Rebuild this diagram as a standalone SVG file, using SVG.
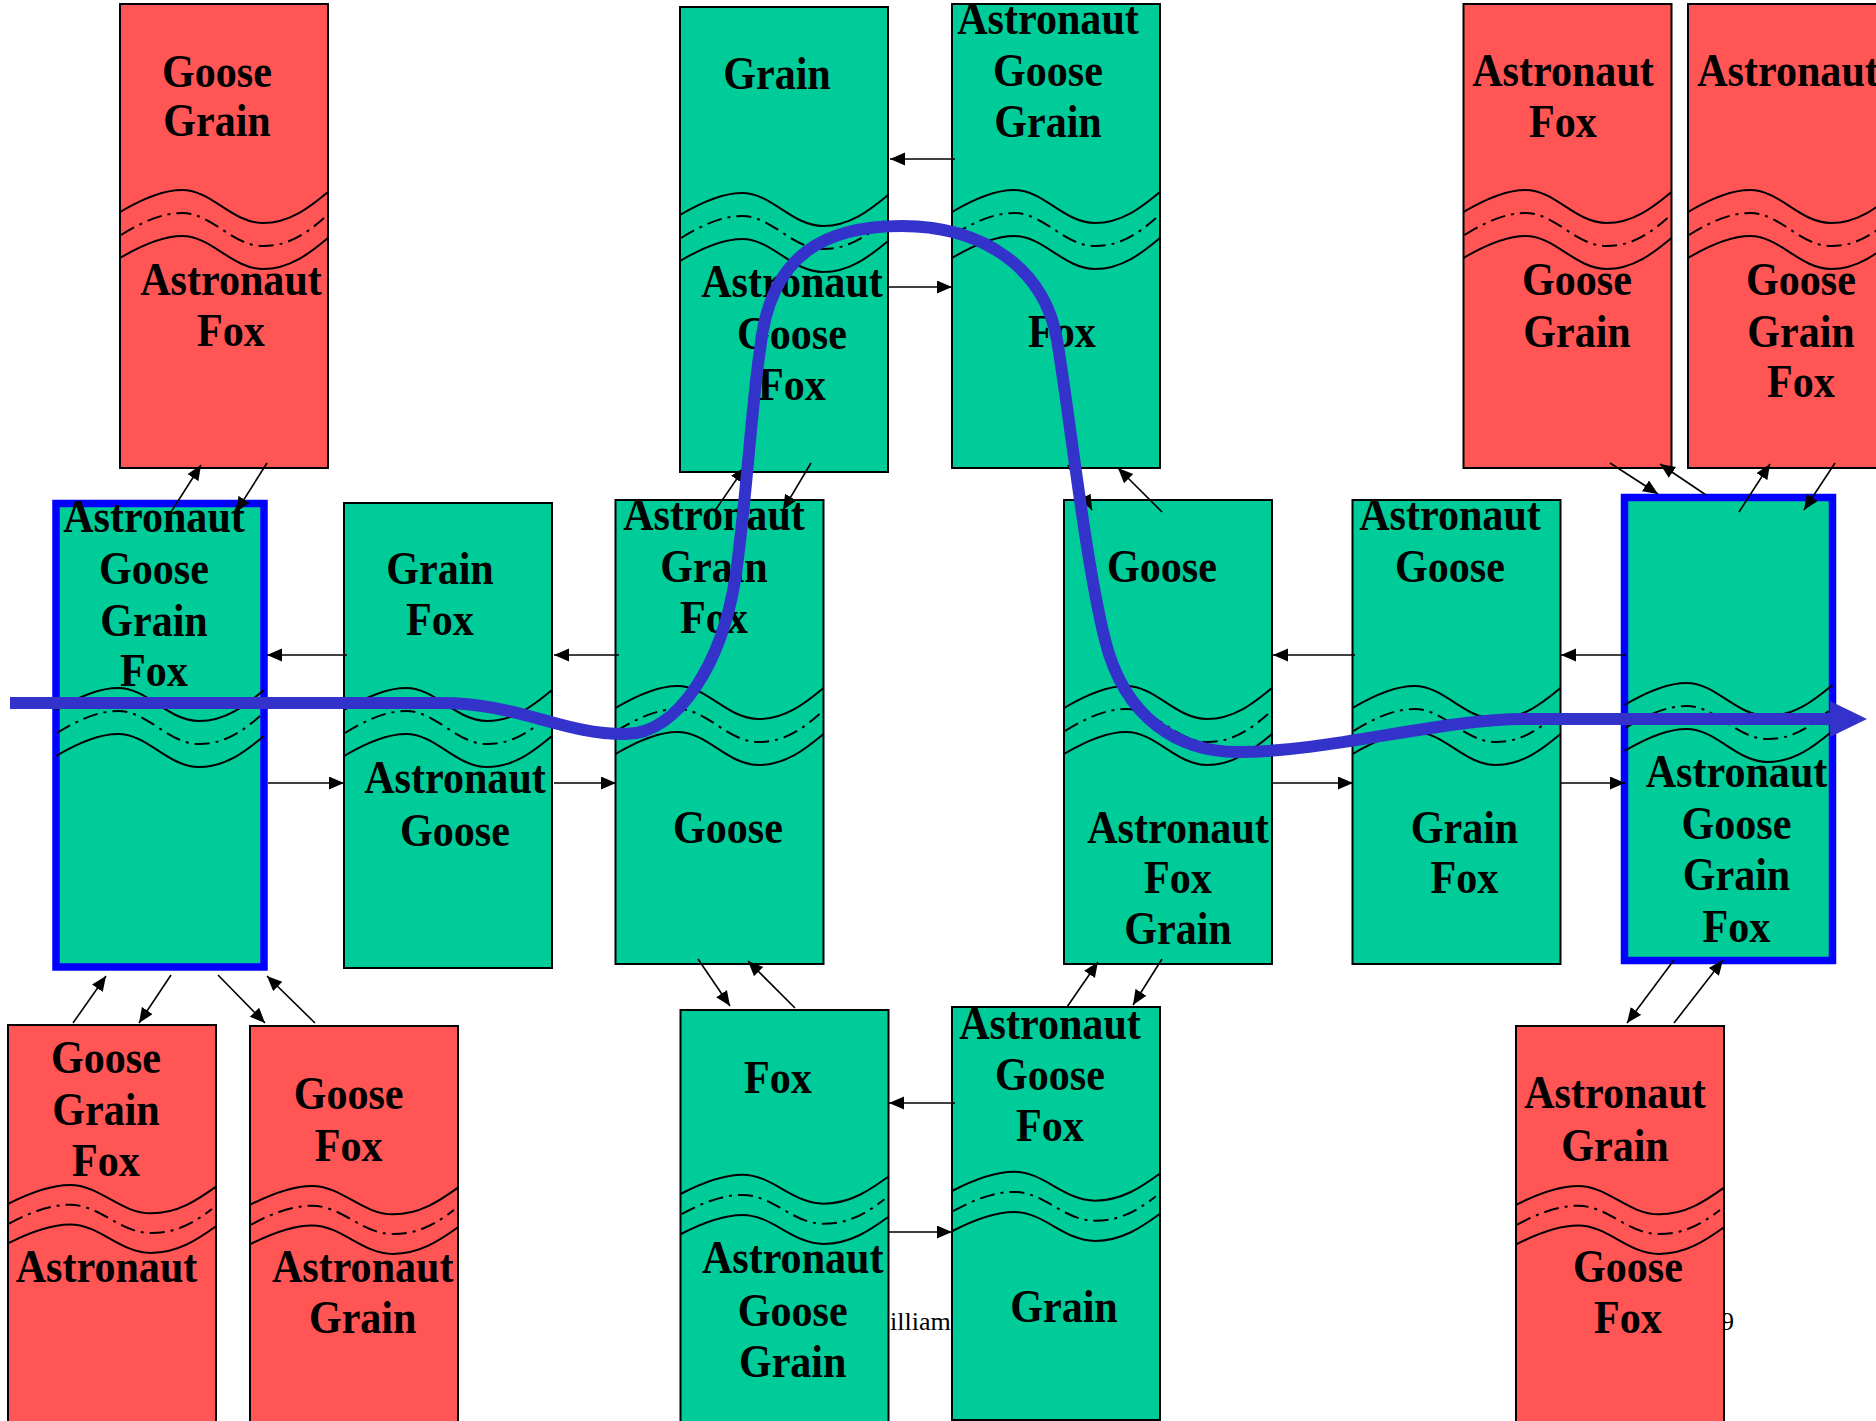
<svg xmlns="http://www.w3.org/2000/svg" xmlns:xlink="http://www.w3.org/1999/xlink" width="1876" height="1421" viewBox="0 0 1876 1421">
  <style>
    .red { fill: #FF5555; stroke: #000; stroke-width: 2; }
    .grn { fill: #00CC99; stroke: #000; stroke-width: 2; }
    .sel { fill: #00CC99; stroke: #0000FF; stroke-width: 7.5; }
    .w  { fill: none; stroke: #000; stroke-width: 2; vector-effect: non-scaling-stroke; }
    .wd { fill: none; stroke: #000; stroke-width: 2; stroke-dasharray: 15 6 3 6; vector-effect: non-scaling-stroke; }
    .t  { font-family: "Liberation Serif", "Times New Roman", serif; font-weight: bold; font-size: 46px; text-anchor: middle; fill: #000; }
    .f  { font-family: "Liberation Serif", "Times New Roman", serif; font-size: 26px; fill: #000; }
    .c  { fill: none; stroke: #000; stroke-width: 1.6; marker-end: url(#head); }
    .route { fill: none; stroke: #3333CC; stroke-width: 12; }
  </style>
  <defs>
    <marker id="head" markerUnits="userSpaceOnUse" markerWidth="16" markerHeight="14" refX="15" refY="6.5" orient="auto">
      <path d="M0,0 L15,6.5 L0,13 z" fill="#000"/>
    </marker>
    <!-- torn-edge break drawn across a state column (box-relative coordinates) -->
    <g id="wave">
      <path class="w" d="M0,208 C22,195 42,186 62,186 C92,186 112,219 143,219 C170,219 190,203 208,188"/>
      <path class="wd" d="M1,231 C22,218 42,209 62,209 C92,209 112,242 143,242 C170,242 188,228 204,214"/>
      <path class="w" d="M0,254 C22,241 42,232 62,232 C92,232 112,265 143,265 C170,265 190,249 208,234"/>
    </g>
  </defs>

  <!-- footer text partly covered by the columns -->
  <text class="f" x="890" y="1330">illiam</text>
  <text class="f" x="1721" y="1330">9</text>

  <!-- top row -->
  <g id="node-A">
    <rect class="red" x="120" y="4" width="208" height="464"/>
    <use xlink:href="#wave" transform="translate(120,4)"/>
    <text class="t" transform="translate(217,0) scale(0.915,1)"><tspan x="0" y="87">Goose</tspan><tspan x="0" y="136">Grain</tspan></text>
    <text class="t" transform="translate(231,0) scale(0.915,1)"><tspan x="0" y="295">Astronaut</tspan><tspan x="0" y="346">Fox</tspan></text>
  </g>
  <g id="node-B">
    <rect class="grn" x="680" y="7" width="208" height="465"/>
    <use xlink:href="#wave" transform="translate(680,7)"/>
    <text class="t" transform="translate(777,0) scale(0.915,1)"><tspan x="0" y="89">Grain</tspan></text>
    <text class="t" transform="translate(792,0) scale(0.915,1)"><tspan x="0" y="297">Astronaut</tspan><tspan x="0" y="349">Goose</tspan><tspan x="0" y="400">Fox</tspan></text>
  </g>
  <g id="node-C">
    <rect class="grn" x="952" y="4" width="208" height="464"/>
    <use xlink:href="#wave" transform="translate(952,4)"/>
    <text class="t" transform="translate(1048,0) scale(0.915,1)"><tspan x="0" y="34">Astronaut</tspan><tspan x="0" y="86">Goose</tspan><tspan x="0" y="137">Grain</tspan></text>
    <text class="t" transform="translate(1062,0) scale(0.915,1)"><tspan x="0" y="347">Fox</tspan></text>
  </g>
  <g id="node-D">
    <rect class="red" x="1463.5" y="4" width="208" height="464"/>
    <use xlink:href="#wave" transform="translate(1463.5,4)"/>
    <text class="t" transform="translate(1563,0) scale(0.915,1)"><tspan x="0" y="86">Astronaut</tspan><tspan x="0" y="137">Fox</tspan></text>
    <text class="t" transform="translate(1577,0) scale(0.915,1)"><tspan x="0" y="295">Goose</tspan><tspan x="0" y="347">Grain</tspan></text>
  </g>
  <g id="node-E">
    <rect class="red" x="1688" y="4" width="208" height="464"/>
    <use xlink:href="#wave" transform="translate(1688,4)"/>
    <text class="t" transform="translate(1788,0) scale(0.915,1)"><tspan x="0" y="86">Astronaut</tspan></text>
    <text class="t" transform="translate(1801,0) scale(0.915,1)"><tspan x="0" y="295">Goose</tspan><tspan x="0" y="347">Grain</tspan><tspan x="0" y="397">Fox</tspan></text>
  </g>

  <!-- middle row -->
  <g id="node-F">
    <rect class="sel" x="56" y="503.5" width="208" height="463.5"/>
    <use xlink:href="#wave" transform="translate(56,502)"/>
    <text class="t" transform="translate(154,0) scale(0.915,1)"><tspan x="0" y="532">Astronaut</tspan><tspan x="0" y="584">Goose</tspan><tspan x="0" y="636">Grain</tspan><tspan x="0" y="686">Fox</tspan></text>
  </g>
  <g id="node-G">
    <rect class="grn" x="344" y="503" width="208" height="465"/>
    <use xlink:href="#wave" transform="translate(344,502)"/>
    <text class="t" transform="translate(440,0) scale(0.915,1)"><tspan x="0" y="584">Grain</tspan><tspan x="0" y="635">Fox</tspan></text>
    <text class="t" transform="translate(455,0) scale(0.915,1)"><tspan x="0" y="793">Astronaut</tspan><tspan x="0" y="846">Goose</tspan></text>
  </g>
  <g id="node-H">
    <rect class="grn" x="615.5" y="500" width="208" height="464"/>
    <use xlink:href="#wave" transform="translate(615.5,500)"/>
    <text class="t" transform="translate(714,0) scale(0.915,1)"><tspan x="0" y="530">Astronaut</tspan><tspan x="0" y="582">Grain</tspan><tspan x="0" y="633">Fox</tspan></text>
    <text class="t" transform="translate(728,0) scale(0.915,1)"><tspan x="0" y="843">Goose</tspan></text>
  </g>
  <g id="node-I">
    <rect class="grn" x="1064" y="500" width="208" height="464"/>
    <use xlink:href="#wave" transform="translate(1064,500)"/>
    <text class="t" transform="translate(1162,0) scale(0.915,1)"><tspan x="0" y="582">Goose</tspan></text>
    <text class="t" transform="translate(1178,0) scale(0.915,1)"><tspan x="0" y="843">Astronaut</tspan><tspan x="0" y="893">Fox</tspan><tspan x="0" y="944">Grain</tspan></text>
  </g>
  <g id="node-J">
    <rect class="grn" x="1352.5" y="500" width="208" height="464"/>
    <use xlink:href="#wave" transform="translate(1352.5,500)"/>
    <text class="t" transform="translate(1450,0) scale(0.915,1)"><tspan x="0" y="530">Astronaut</tspan><tspan x="0" y="582">Goose</tspan></text>
    <text class="t" transform="translate(1464.5,0) scale(0.915,1)"><tspan x="0" y="843">Grain</tspan><tspan x="0" y="893">Fox</tspan></text>
  </g>
  <g id="node-K">
    <rect class="sel" x="1624.5" y="497.5" width="208" height="463"/>
    <use xlink:href="#wave" transform="translate(1624.5,497)"/>
    <text class="t" transform="translate(1736.5,0) scale(0.915,1)"><tspan x="0" y="787">Astronaut</tspan><tspan x="0" y="839">Goose</tspan><tspan x="0" y="890">Grain</tspan><tspan x="0" y="942">Fox</tspan></text>
  </g>

  <!-- bottom row -->
  <g id="node-L">
    <rect class="red" x="8" y="1025" width="208" height="420"/>
    <use xlink:href="#wave" transform="translate(8,1025) scale(1,0.86)"/>
    <text class="t" transform="translate(106,0) scale(0.915,1)"><tspan x="0" y="1073">Goose</tspan><tspan x="0" y="1125">Grain</tspan><tspan x="0" y="1176">Fox</tspan></text>
    <text class="t" transform="translate(106.5,0) scale(0.915,1)"><tspan x="0" y="1282">Astronaut</tspan></text>
  </g>
  <g id="node-M">
    <rect class="red" x="250" y="1026" width="208" height="420"/>
    <use xlink:href="#wave" transform="translate(250,1026) scale(1,0.86)"/>
    <text class="t" transform="translate(348.6,0) scale(0.915,1)"><tspan x="0" y="1109">Goose</tspan><tspan x="0" y="1161">Fox</tspan></text>
    <text class="t" transform="translate(362.7,0) scale(0.915,1)"><tspan x="0" y="1282">Astronaut</tspan><tspan x="0" y="1333">Grain</tspan></text>
  </g>
  <g id="node-N">
    <rect class="grn" x="680.5" y="1010" width="208" height="430"/>
    <use xlink:href="#wave" transform="translate(680.5,1012) scale(1,0.875)"/>
    <text class="t" transform="translate(778,0) scale(0.915,1)"><tspan x="0" y="1093">Fox</tspan></text>
    <text class="t" transform="translate(792.7,0) scale(0.915,1)"><tspan x="0" y="1273">Astronaut</tspan><tspan x="0" y="1326">Goose</tspan><tspan x="0" y="1377">Grain</tspan></text>
  </g>
  <g id="node-O">
    <rect class="grn" x="952" y="1007" width="208" height="413"/>
    <use xlink:href="#wave" transform="translate(952,1009) scale(1,0.875)"/>
    <text class="t" transform="translate(1050,0) scale(0.915,1)"><tspan x="0" y="1039">Astronaut</tspan><tspan x="0" y="1090">Goose</tspan><tspan x="0" y="1141">Fox</tspan></text>
    <text class="t" transform="translate(1064,0) scale(0.915,1)"><tspan x="0" y="1322">Grain</tspan></text>
  </g>
  <g id="node-P">
    <rect class="red" x="1516" y="1026" width="208" height="420"/>
    <use xlink:href="#wave" transform="translate(1516,1026) scale(1,0.86)"/>
    <text class="t" transform="translate(1615,0) scale(0.915,1)"><tspan x="0" y="1108">Astronaut</tspan><tspan x="0" y="1161">Grain</tspan></text>
    <text class="t" transform="translate(1628,0) scale(0.915,1)"><tspan x="0" y="1282">Goose</tspan><tspan x="0" y="1333">Fox</tspan></text>
  </g>

  <!-- transitions between states -->
  <g id="connectors">
    <line class="c" x1="955" y1="159" x2="890" y2="159"/>
    <line class="c" x1="889" y1="287" x2="952" y2="287"/>
    <line class="c" x1="347" y1="655" x2="267" y2="655"/>
    <line class="c" x1="268" y1="783" x2="344" y2="783"/>
    <line class="c" x1="619" y1="655" x2="554" y2="655"/>
    <line class="c" x1="554" y1="783" x2="616" y2="783"/>
    <line class="c" x1="1355" y1="655" x2="1273" y2="655"/>
    <line class="c" x1="1273" y1="783" x2="1353" y2="783"/>
    <line class="c" x1="1626" y1="655" x2="1561" y2="655"/>
    <line class="c" x1="1561" y1="783" x2="1625" y2="783"/>
    <line class="c" x1="955" y1="1103" x2="889" y2="1103"/>
    <line class="c" x1="889" y1="1232" x2="952" y2="1232"/>

    <line class="c" x1="171" y1="512" x2="201" y2="465"/>
    <line class="c" x1="267" y1="463" x2="236" y2="512"/>
    <line class="c" x1="714" y1="512" x2="745" y2="467"/>
    <line class="c" x1="811" y1="463" x2="783" y2="510"/>
    <line class="c" x1="1162" y1="512" x2="1118" y2="468"/>
    <line class="c" x1="1068" y1="465" x2="1092" y2="510"/>
    <line class="c" x1="698" y1="959" x2="730" y2="1006"/>
    <line class="c" x1="795" y1="1008" x2="748" y2="961"/>
    <line class="c" x1="1067" y1="1007" x2="1098" y2="962"/>
    <line class="c" x1="1162" y1="959" x2="1133" y2="1005"/>
    <line class="c" x1="73" y1="1023" x2="106" y2="976"/>
    <line class="c" x1="171" y1="975" x2="139" y2="1023"/>
    <line class="c" x1="218" y1="975" x2="265" y2="1023"/>
    <line class="c" x1="315" y1="1023" x2="267" y2="976"/>
    <line class="c" x1="1610" y1="463" x2="1658" y2="494"/>
    <line class="c" x1="1706" y1="495" x2="1660" y2="464"/>
    <line class="c" x1="1739" y1="512" x2="1770" y2="464"/>
    <line class="c" x1="1835" y1="463" x2="1804" y2="510"/>
    <line class="c" x1="1674" y1="960" x2="1627" y2="1023"/>
    <line class="c" x1="1674" y1="1023" x2="1723" y2="960"/>
  </g>

  <!-- solution path -->
  <g id="solution">
    <path class="route" d="M10,703 H440 C520,703 560,734 625,734 C680,734 722,660 735,580 C745,516 752,400 760,350 C770,250 830,226 902,226 C985,226 1045,270 1057,340 C1069,410 1085,560 1105,640 C1125,720 1180,752 1238,752 C1330,752 1440,719 1524,719 H1832"/>
    <polygon points="1830,701 1867,719 1830,737" fill="#3333CC"/>
  </g>
</svg>
